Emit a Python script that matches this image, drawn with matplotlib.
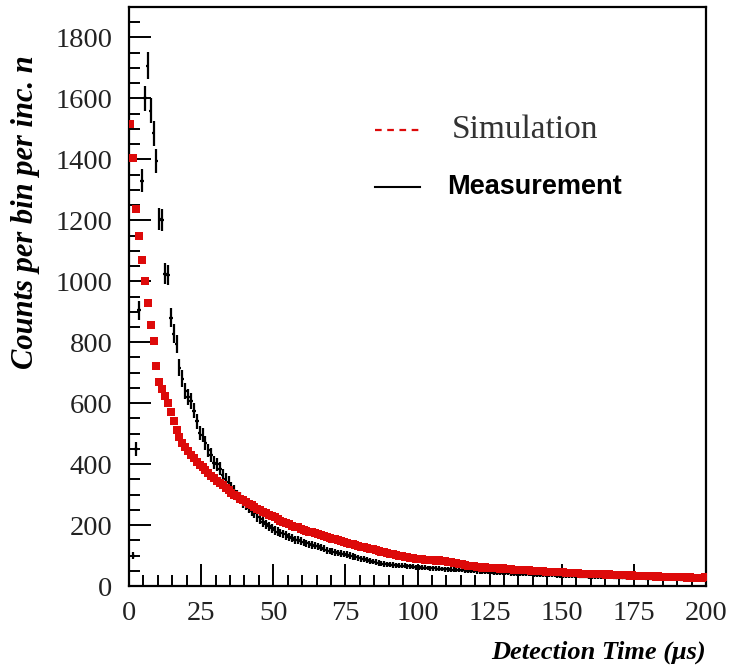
import numpy as np
import matplotlib
matplotlib.use("Agg")
import matplotlib.pyplot as plt
from matplotlib.ticker import MultipleLocator

# simulation, 1 us bins, centres 0.5 .. 199.5
sim_counts = [
    1517, 1405, 1238, 1150, 1070, 1002, 930, 855, 805, 722,
    668, 648, 625, 600, 572, 540, 512, 490, 470, 456,
    442, 430, 420, 408, 398, 390, 380, 372, 362, 354,
    346, 338, 330, 322, 315, 306, 300, 294, 287, 281,
    276, 270, 266, 259, 254, 248, 244, 238, 234, 229,
    225, 220, 214, 211, 206, 203, 198, 195, 192, 188,
    185, 182, 178, 176, 173, 170, 166, 164, 161, 158,
    155, 153, 150, 147, 145, 142, 139, 137, 135, 132,
    129, 127, 125, 122, 120, 117, 115, 112, 110, 108,
    106, 104, 101, 100, 98, 96, 95, 93, 91, 90,
    89, 88, 86, 86, 85, 84, 83, 84, 82, 81,
    80, 79, 77, 75, 73, 71, 69, 67, 65, 64,
    62, 61, 60, 61, 60, 59, 60, 58, 57, 58,
    56, 55, 55, 54, 53, 54, 52, 51, 52, 50,
    50, 49, 48, 49, 47, 47, 46, 47, 45, 46,
    45, 44, 43, 44, 42, 42, 41, 40, 41, 40,
    39, 40, 38, 39, 38, 37, 38, 36, 37, 36,
    36, 35, 36, 34, 35, 34, 33, 34, 33, 32,
    33, 32, 31, 32, 31, 30, 31, 30, 29, 30,
    29, 28, 29, 27, 28, 27, 26, 27, 26, 28,
]

# measurement, 1 us bins, centres 1.5 .. 199.5
meas_counts = [
    100, 450, 905, 1330, 1600, 1708, 1560, 1485, 1395,
    1205, 1200, 1025, 1020, 880, 828, 795, 716, 680, 640,
    620, 607, 575, 540, 502, 495, 470, 445, 430, 405,
    400, 385, 365, 352, 340, 322, 312, 298, 290, 275,
    265, 255, 246, 238, 226, 220, 210, 203, 196, 190,
    183, 178, 174, 170, 166, 160, 157, 152, 150, 147,
    143, 140, 137, 135, 132, 130, 125, 122, 118, 115,
    112, 110, 108, 106, 105, 103, 100, 97, 95, 92,
    90, 88, 85, 82, 80, 78, 76, 73, 72, 71,
    70, 69, 68, 67, 66, 66, 65, 64, 63, 62,
    61, 60, 60, 59, 58, 58, 57, 57, 56, 55,
    55, 54, 54, 53, 52, 52, 51, 50, 50, 49,
    48, 48, 47, 46, 46, 45, 44, 44, 43, 43,
    42, 42, 41, 41, 40, 40, 39, 39, 38, 38,
    37, 37, 37, 36, 36, 35, 35, 35, 34, 34,
    33, 33, 33, 32, 32, 32, 31, 31, 31, 30,
    30, 30, 29, 29, 29, 28, 28, 28, 27, 27,
    27, 27, 26, 26, 26, 25, 25, 25, 25, 24,
    24, 24, 24, 23, 23, 23, 23, 22, 22, 22,
    22, 21, 21, 21, 21, 20, 20, 20, 20, 20,
]

sim_t = np.arange(len(sim_counts)) + 0.5
meas_t = np.arange(len(meas_counts)) + 1.5
meas_err = np.sqrt(np.array(meas_counts)) * 1.05

serif = "Liberation Serif"
red = "#dd0a0a"

fig = plt.figure(figsize=(7.33, 6.69), dpi=100)
ax = fig.add_axes([129 / 733, 1 - 586 / 669, 577 / 733, 579 / 669])

ax.errorbar(meas_t, meas_counts, yerr=meas_err, xerr=0.6, fmt="none",
            ecolor="black", elinewidth=1.6, capsize=0, zorder=2)
ax.plot(sim_t, sim_counts, linestyle="none", marker="s", markersize=6,
        color=red, markeredgewidth=0, zorder=3)

ax.set_xlim(0, 200)
ax.set_ylim(0, 1900)
ax.xaxis.set_major_locator(MultipleLocator(25))
ax.xaxis.set_minor_locator(MultipleLocator(5))
ax.yaxis.set_major_locator(MultipleLocator(200))
ax.yaxis.set_minor_locator(MultipleLocator(50))
ax.tick_params(which="both", direction="in", top=False, right=False, width=1.4)
ax.tick_params(which="major", length=16)
ax.tick_params(which="minor", length=8)
ax.tick_params(axis="y", pad=12)
ax.tick_params(axis="x", pad=11)
for s in ax.spines.values():
    s.set_linewidth(1.6)
for lab in ax.get_xticklabels() + ax.get_yticklabels():
    lab.set_fontfamily(serif)
    lab.set_fontsize(20.5)
    lab.set_color("#222222")

ax.set_ylabel("Counts per bin per inc. n", fontfamily=serif, fontsize=22,
              fontweight="bold", fontstyle="italic")
ax.yaxis.set_label_coords(-0.154, 0.646)
fig.text(706 / 733, 1 - 652 / 669, "Detection Time (\u03bcs)", fontfamily=serif,
         fontsize=19, fontweight="bold", fontstyle="italic",
         ha="right", va="center")

# legend drawn by hand
ax.plot([0.426, 0.504], [0.788, 0.788], transform=ax.transAxes, color=red,
        linestyle=(0, (3, 2.5)), linewidth=1.6)
ax.text(0.560, 0.788, "Simulation", transform=ax.transAxes, fontfamily=serif,
        fontsize=24, va="center", color="#333333")
ax.plot([0.426, 0.504], [0.689, 0.689], transform=ax.transAxes, color="black",
        linewidth=1.5)
ax.text(0.551, 0.689, "Measurement", transform=ax.transAxes,
        fontfamily="Liberation Sans", fontsize=19.5, fontweight="bold",
        va="center", color="black")

fig.savefig("out.png", dpi=100)
